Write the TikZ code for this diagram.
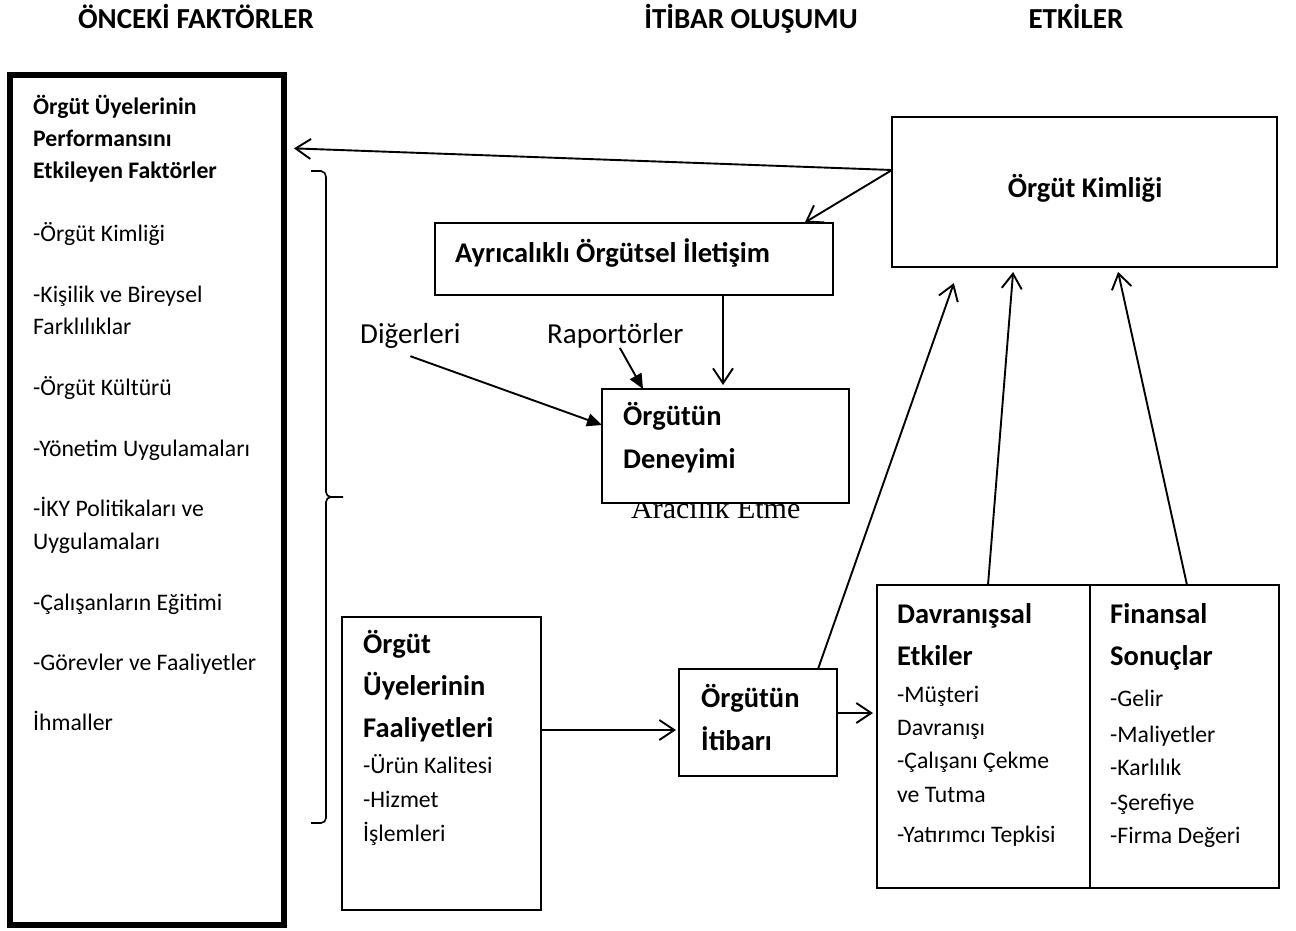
\documentclass[tikz,border=0pt]{standalone}
\usepackage{fontspec}
\setmainfont{Carlito}
\newfontfamily\serifRm{Liberation Serif}
\usetikzlibrary{arrows.meta}
\newcommand\bsl[1]{{\fontsize{28.5}{34}\selectfont\bfseries #1}}

\begin{document}
\begin{tikzpicture}
[x=1pt,y=-1pt,
box node/.style={draw,rectangle,line width=1.3pt,inner sep=0pt,outer sep=0pt,fill=white},
txt node/.style={inner sep=0pt,anchor=base west,align=left,font=\fontsize{23.7}{34}\selectfont},
head node/.style={inner sep=0pt,anchor=base,font=\fontsize{29}{34}\selectfont\bfseries},
arr/.style={line width=1.9pt,-{Straight Barb[length=15pt,width=20pt,line width=1.9pt]}},
farr/.style={line width=1.9pt,-{Triangle[length=15pt,width=13pt]}},
bracket line/.style={line width=1.6pt}]
\useasboundingbox (0,0) rectangle (1296,930);

\node[head node] (h1) at (196,28) {ÖNCEKİ FAKTÖRLER};
\node[head node] (h2) at (751,28) {İTİBAR OLUŞUMU};
\node[head node] (h3) at (1076,28) {ETKİLER};

\node[txt node,font=\serifRm\fontsize{30}{34}\selectfont] (aracilik) at (631,518) {Aracılık Etme};

\node[box node,line width=5.5pt,minimum width=274pt,minimum height=850pt] (onceki) at (147,500) {};
\node[box node,minimum width=385pt,minimum height=150pt] (kimlik) at (1084.5,192) {};
\node[box node,minimum width=398pt,minimum height=72pt] (ayricalik) at (634,259) {};
\node[box node,minimum width=247pt,minimum height=114pt] (deneyim) at (725.5,446) {};
\node[box node,minimum width=199pt,minimum height=293pt] (faaliyet) at (441.5,763.5) {};
\node[box node,minimum width=158pt,minimum height=107pt] (itibar) at (758,722.5) {};
\node[box node,minimum width=213pt,minimum height=303pt] (davranis) at (983.5,736.5) {};
\node[box node,minimum width=189pt,minimum height=303pt] (finansal) at (1184.5,736.5) {};

\node[txt node,font=\fontsize{23.7}{32}\selectfont] (onceki-t) at (33,730)
{\textbf{Örgüt Üyelerinin}\\\textbf{Performansını}\\\textbf{Etkileyen Faktörler}\\[31pt]-Örgüt Kimliği\\[29pt]-Kişilik ve Bireysel\\Farklılıklar\\[29pt]-Örgüt Kültürü\\[29pt]-Yönetim Uygulamaları\\[28pt]-İKY Politikaları ve\\[1pt]Uygulamaları\\[29pt]-Çalışanların Eğitimi\\[28pt]-Görevler ve Faaliyetler\\[28pt]İhmaller};
\node[head node,font=\fontsize{28.5}{34}\selectfont\bfseries] (kimlik-t) at (1085,197) {Örgüt Kimliği};
\node[txt node] (ayricalik-t) at (455,262) {\bsl{Ayrıcalıklı Örgütsel İletişim}};
\node[txt node] (deneyim-t) at (623,468) {\bsl{Örgütün}\\[9pt]\bsl{Deneyimi}};
\node[txt node] (faaliyet-t) at (363,841)
{\bsl{Örgüt}\\[8pt]\bsl{Üyelerinin}\\[8pt]\bsl{Faaliyetleri}\\[2pt]-Ürün Kalitesi\\-Hizmet\\İşlemleri};
\node[txt node] (itibar-t) at (701,750) {\bsl{Örgütün}\\[9pt]\bsl{İtibarı}};
\node[txt node] (davranis-t) at (897,842)
{\bsl{Davranışsal}\\[8pt]\bsl{Etkiler}\\[3pt]-Müşteri\\[-1pt]Davranışı\\[-1pt]-Çalışanı Çekme\\ve Tutma\\[6pt]-Yatırımcı Tepkisi};
\node[txt node] (finansal-t) at (1110,843)
{\bsl{Finansal}\\[8pt]\bsl{Sonuçlar}\\[7pt]-Gelir\\[2pt]-Maliyetler\\[-1pt]-Karlılık\\[1pt]-Şerefiye\\[-1pt]-Firma Değeri};
\node[txt node,font=\fontsize{29}{34}\selectfont] (digerleri) at (360,343) {Diğerleri};
\node[txt node,font=\fontsize{29}{34}\selectfont] (raportor) at (547,343) {Raportörler};

\draw[bracket line] (311,171) -- (321,171) to[out=0,in=90] (326,177) -- (326,492)
  to[out=-90,in=180] (331,497) -- (343,497);
\draw[bracket line] (331,497) to[out=180,in=90] (326,502) -- (326,818)
  to[out=-90,in=0] (321,823) -- (311,823);

\path
([yshift=22pt]kimlik.west) edge[arr,shorten >=10pt] ([yshift=-73pt]onceki.north east)
([yshift=22pt]kimlik.west) edge[arr,shorten >=1pt] ([xshift=-29pt]ayricalik.north east)
([xshift=89pt]ayricalik.south) edge[arr,shorten >=4pt] ([xshift=-2.5pt]deneyim.north)
([yshift=-8pt]digerleri.south) edge[farr] ([yshift=21pt]deneyim.west)
([xshift=4.5pt]raportor.south) edge[farr] ([xshift=-82.5pt]deneyim.north)
([yshift=-7.5pt]itibar.west -| faaliyet.east) edge[arr,shorten >=3pt] ([yshift=-7.5pt]itibar.west)
([yshift=9.5pt]itibar.east) edge[arr,shorten >=4pt] ([yshift=9.5pt]itibar.east -| davranis.west)
([xshift=60pt]itibar.north) edge[arr,shorten >=17pt] ([xshift=-125pt]kimlik.south)
([xshift=4.5pt]davranis.north) edge[arr,shorten >=5pt] ([xshift=-71pt]kimlik.south)
([xshift=2.5pt]finansal.north) edge[arr,shorten >=5pt] ([xshift=32.5pt]kimlik.south);
\end{tikzpicture}
\end{document}
